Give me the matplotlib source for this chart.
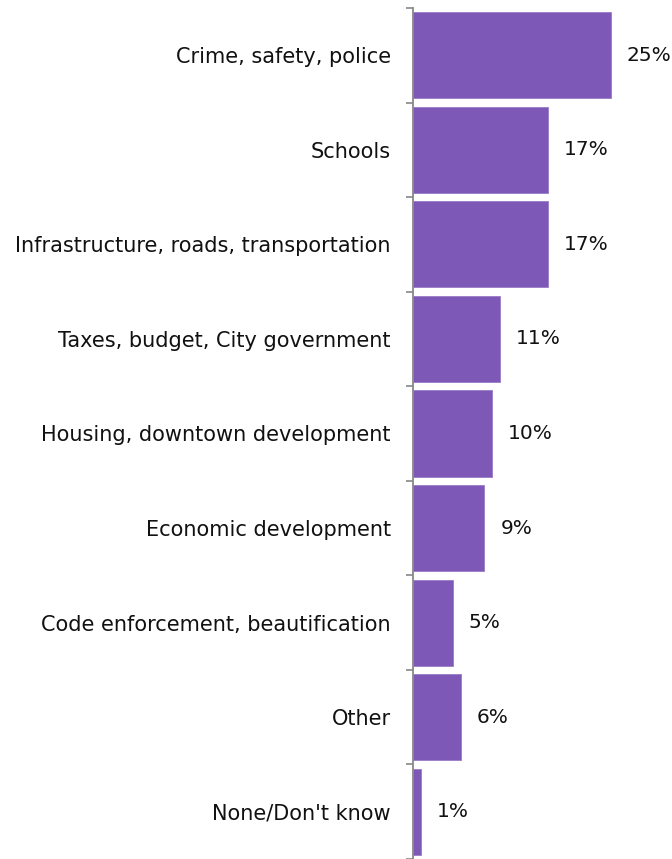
import numpy as np
import matplotlib.pyplot as plt

plt.rc('font', family='DejaVu Sans', size=15)

categories = ['Crime, safety, police', 'Schools', 'Infrastructure, roads, transportation',
              'Taxes, budget, City government', 'Housing, downtown development',
              'Economic development', 'Code enforcement, beautification', 'Other',
              "None/Don't know"]
values = [25, 17, 17, 11, 10, 9, 5, 6, 1]
value_labels = ['25%', '17%', '17%', '11%', '10%', '9%', '5%', '6%', '1%']

fig = plt.figure(figsize=(6.72, 8.59), dpi=100)
ax = fig.add_axes([0.6146, 0.0, 0.3536, 0.9907])

y = np.arange(len(categories))
ax.barh(y, values, height=0.91, color='#7E58B6', edgecolor='#9A7CC8', linewidth=0.6)
ax.set_ylim(len(categories) - 0.5, -0.5)
ax.set_xlim(0, 30)

for yi, v, lab in zip(y, values, value_labels):
    ax.annotate(lab, (v, yi), xytext=(11.5, 0), textcoords='offset points',
                va='center', ha='left', fontsize=14.5, color='#111111')

# tick marks sit between the bars, labels at the bar centres
ax.set_yticks(np.arange(-0.5, len(categories), 1.0))
ax.set_yticklabels([])
ax.tick_params(axis='y', which='major', length=5, width=1.2, color='#888888', direction='out')
ax.set_yticks(y, minor=True)
ax.set_yticklabels(categories, minor=True)
ax.tick_params(axis='y', which='minor', length=0, pad=16, labelcolor='#111111')

ax.set_xticks([])
for side in ['top', 'right', 'bottom']:
    ax.spines[side].set_visible(False)
ax.spines['left'].set_color('#888888')
ax.spines['left'].set_linewidth(1.3)

fig.savefig('out.png', dpi=100)
